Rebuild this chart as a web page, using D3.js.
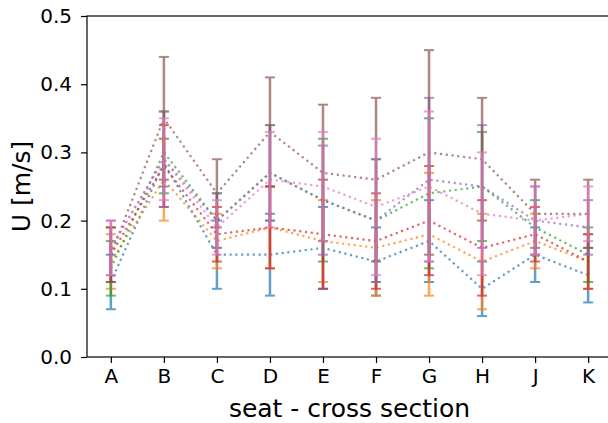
<!DOCTYPE html>
<html>
<head>
<meta charset="utf-8">
<script src="https://cdn.jsdelivr.net/npm/d3@7"></script>
<style>
  html, body { margin: 0; padding: 0; background: #fff; }
  svg { display: block; font-family: "DejaVu Sans", sans-serif; }
</style>
</head>
<body>
<svg id="chart" width="608" height="423"></svg>
<script>
// Measurement sites along the seat cross sections
const categories = ["A", "B", "C", "D", "E", "F", "G", "H", "J", "K"];
const yTicks = [0.0, 0.1, 0.2, 0.3, 0.4, 0.5];

// Mean velocity U [m/s] per series
const blueMean   = [0.11, 0.285, 0.15, 0.15, 0.16, 0.14, 0.17, 0.10, 0.15, 0.12];
const orangeMean = [0.14, 0.26, 0.17, 0.19, 0.17, 0.16, 0.18, 0.14, 0.17, 0.14];
const greenMean  = [0.13, 0.30, 0.20, 0.27, 0.23, 0.20, 0.24, 0.25, 0.19, 0.15];
const redMean    = [0.15, 0.28, 0.18, 0.19, 0.18, 0.17, 0.20, 0.16, 0.18, 0.14];
const purpleMean = [0.16, 0.29, 0.20, 0.27, 0.23, 0.20, 0.26, 0.25, 0.20, 0.19];
const brownMean  = [0.15, 0.35, 0.24, 0.33, 0.27, 0.26, 0.30, 0.29, 0.21, 0.21];
const pinkMean   = [0.16, 0.29, 0.19, 0.26, 0.25, 0.22, 0.25, 0.21, 0.20, 0.21];

// Standard deviation per series
const blueErr   = [0.04, 0.035, 0.05, 0.06, 0.06, 0.05, 0.06, 0.04, 0.04, 0.04];
const orangeErr = [0.04, 0.06, 0.04, 0.06, 0.06, 0.07, 0.09, 0.07, 0.04, 0.04];
const greenErr  = [0.04, 0.06, 0.04, 0.07, 0.09, 0.09, 0.11, 0.08, 0.04, 0.04];
const redErr    = [0.04, 0.06, 0.04, 0.06, 0.08, 0.07, 0.08, 0.07, 0.04, 0.04];
const purpleErr = [0.04, 0.07, 0.04, 0.07, 0.08, 0.09, 0.12, 0.09, 0.05, 0.04];
const brownErr  = [0.04, 0.09, 0.05, 0.08, 0.10, 0.12, 0.15, 0.09, 0.05, 0.05];
const pinkErr   = [0.04, 0.06, 0.04, 0.07, 0.08, 0.10, 0.11, 0.09, 0.05, 0.04];

const seriesColors = ["#1f77b4", "#ff7f0e", "#2ca02c", "#d62728", "#9467bd", "#8c564b", "#e377c2"];
const series = [
  { mean: blueMean,   err: blueErr },
  { mean: orangeMean, err: orangeErr },
  { mean: greenMean,  err: greenErr },
  { mean: redMean,    err: redErr },
  { mean: purpleMean, err: purpleErr },
  { mean: brownMean,  err: brownErr },
  { mean: pinkMean,   err: pinkErr }
].map((s, i) => ({ ...s, color: seriesColors[i] }));

const svg = d3.select("#chart");
const plot = { left: 87, top: 16, right: 612, bottom: 357 };

const x = d3.scalePoint()
  .domain(categories)
  .range([plot.left, plot.right])
  .padding(0.45);

const y = d3.scaleLinear()
  .domain([0, 0.5])
  .range([plot.bottom, plot.top]);

// Axes
const xAxis = d3.axisBottom(x).tickSize(6).tickPadding(6);
const yAxis = d3.axisLeft(y).tickValues(yTicks).tickFormat(d3.format(".1f")).tickSize(6).tickPadding(9);

const gx = svg.append("g").attr("transform", `translate(0,${plot.bottom})`).call(xAxis);
const gy = svg.append("g").attr("transform", `translate(${plot.left},0)`).call(yAxis);
[gx, gy].forEach(g => {
  g.selectAll("text").attr("font-size", 20).attr("fill", "#000").attr("font-family", "DejaVu Sans");
  g.selectAll("line").attr("stroke", "#000").attr("stroke-width", 1.2);
  g.select(".domain").remove();
});

// Frame
svg.append("rect")
  .attr("x", plot.left).attr("y", plot.top)
  .attr("width", plot.right - plot.left).attr("height", plot.bottom - plot.top)
  .attr("fill", "none").attr("stroke", "#000").attr("stroke-width", 1.2);

const line = d3.line().x((d, i) => x(categories[i])).y(d => y(d));
const capHalf = 5;

series.forEach(s => {
  const g = svg.append("g").attr("opacity", 0.7);
  // Mean line, dotted
  g.append("path")
    .attr("d", line(s.mean))
    .attr("fill", "none")
    .attr("stroke", s.color)
    .attr("stroke-width", 2.2)
    .attr("stroke-dasharray", "2.2,3.6");
  // Error bars
  const bars = g.selectAll(".bar").data(s.mean.map((m, i) => ({ c: categories[i], m, e: s.err[i] })))
    .enter().append("g");
  bars.append("line")
    .attr("x1", d => x(d.c)).attr("x2", d => x(d.c))
    .attr("y1", d => y(d.m - d.e)).attr("y2", d => y(d.m + d.e))
    .attr("stroke", s.color).attr("stroke-width", 2.5);
  [-1, 1].forEach(sign => {
    bars.append("line")
      .attr("x1", d => x(d.c) - capHalf).attr("x2", d => x(d.c) + capHalf)
      .attr("y1", d => y(d.m + sign * d.e)).attr("y2", d => y(d.m + sign * d.e))
      .attr("stroke", s.color).attr("stroke-width", 2);
  });
});

// Axis titles
svg.append("text")
  .attr("x", (plot.left + plot.right) / 2).attr("y", 417)
  .attr("text-anchor", "middle").attr("font-size", 25)
  .text("seat - cross section");

svg.append("text")
  .attr("transform", `translate(30,${(plot.top + plot.bottom) / 2}) rotate(-90)`)
  .attr("text-anchor", "middle").attr("font-size", 25)
  .text("U [m/s]");
</script>
</body>
</html>
